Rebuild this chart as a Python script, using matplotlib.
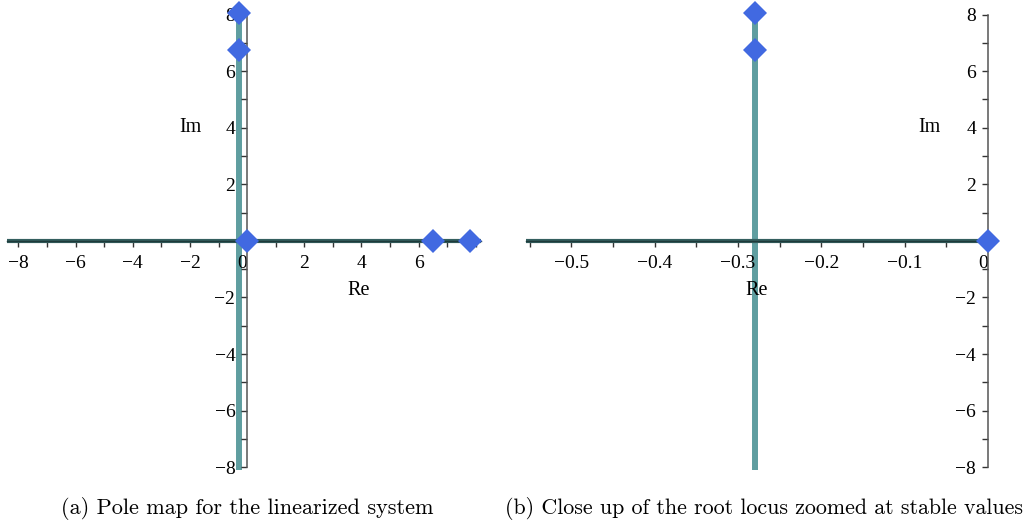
import matplotlib
matplotlib.use("Agg")
import matplotlib.pyplot as plt
import matplotlib.ticker as mticker

# poles (real, imag)
poles_a_re = [-0.28, -0.28, 0.0, 6.5, 7.8]
poles_a_im = [8.05, 6.75, 0.0, 0.0, 0.0]
poles_b_re = [-0.28, -0.28, 0.0]
poles_b_im = [8.05, 6.75, 0.0]

# root locus branches
branch_re = -0.28
branch_im = [-8.1, 8.05]

xlim_a = (-8.4, 8.2)
xlim_b = (-0.555, 0.005)
ylim = (-8.1, 8.25)

yticks = [-8, -6, -4, -2, 2, 4, 6, 8]
xticks_a = [-8, -6, -4, -2, 0, 2, 4, 6]
xticks_b = [-0.5, -0.4, -0.3, -0.2, -0.1, 0]

TEAL = "#5f9ea0"
DARK_TEAL = "#345f5f"
BLUE = "#4169e1"
TICK_FONT = "Liberation Serif"

fig = plt.figure(figsize=(10.24, 5.22), dpi=100)
ax_a = fig.add_axes([7 / 1024, 52 / 522, 474.5 / 1024, 462.5 / 522])
ax_b = fig.add_axes([525.7 / 1024, 52 / 522, 466.3 / 1024, 462.5 / 522])


def minus(s):
    return s.replace("-", "\u2212")


def pole_map(ax, xlim, xticks, xminor, re, im, fmt, im_x, re_x):
    ax.set_xlim(*xlim)
    ax.set_ylim(*ylim)
    ax.patch.set_visible(False)
    for s in ("top", "right"):
        ax.spines[s].set_visible(False)
    ax.spines["left"].set_position(("data", 0))
    ax.spines["left"].set_bounds(-8, 8)
    ax.spines["bottom"].set_position(("data", 0))
    ax.spines["left"].set_color("#555555")
    ax.spines["left"].set_linewidth(1.1)
    ax.spines["bottom"].set_color("#1e3a3a")
    ax.spines["bottom"].set_linewidth(1.0)

    # locus along the real axis and the vertical branch (kept under the tick labels)
    ax.plot(list(xlim), [0, 0], color=DARK_TEAL, lw=3.0, zorder=1.6,
            solid_capstyle="butt")
    ax.plot([branch_re, branch_re], branch_im, color=TEAL, lw=4.3, zorder=1.5,
            solid_capstyle="butt", clip_on=False)
    ax.plot(re, im, "D", color=BLUE, markersize=12.5, zorder=5, clip_on=False,
            markeredgewidth=0)

    ax.set_xticks(xticks)
    ax.xaxis.set_minor_locator(mticker.MultipleLocator(xminor))
    ax.set_yticks(yticks)
    ax.yaxis.set_minor_locator(mticker.MultipleLocator(1))
    ax.xaxis.set_major_formatter(mticker.FuncFormatter(fmt))
    ax.yaxis.set_major_formatter(mticker.FuncFormatter(lambda v, _: minus(f"{v:.0f}")))
    ax.tick_params(axis="both", which="both", direction="out", colors="#333333",
                   labelcolor="black", labelsize=14, width=1.0)
    ax.tick_params(axis="both", which="major", length=4)
    ax.tick_params(axis="both", which="minor", length=4)
    ax.tick_params(axis="x", which="major", pad=6)
    ax.tick_params(axis="y", which="major", pad=4.5)
    for lab in ax.get_xticklabels() + ax.get_yticklabels():
        lab.set_fontfamily(TICK_FONT)
    for lab, v in zip(ax.get_xticklabels(), xticks):
        if v == 0:
            lab.set_horizontalalignment("right")

    ax.text(im_x, 4, "Im", fontsize=14.5, family=TICK_FONT, ha="center", va="center")
    ax.text(re_x, -1.75, "Re", fontsize=14.5, family=TICK_FONT, ha="center", va="center")


pole_map(ax_a, xlim_a, xticks_a, 1, poles_a_re, poles_a_im,
         lambda v, _: minus(f"{v:.0f}"), -2.0, 3.9)
pole_map(ax_b, xlim_b, xticks_b, 0.05, poles_b_re, poles_b_im,
         lambda v, _: ("0" if abs(v) < 1e-9 else minus(f"{v:.1f}")),
         -0.07, -0.277)

fig.text(247 / 1024, 1 - 509 / 522, "(a) Pole map for the linearized system",
         family="cmr10", fontsize=16, ha="center", va="center")
fig.text(764 / 1024, 1 - 509 / 522, "(b) Close up of the root locus zoomed at stable values",
         family="cmr10", fontsize=15.8, ha="center", va="center")

fig.savefig("out.png", dpi=100)
